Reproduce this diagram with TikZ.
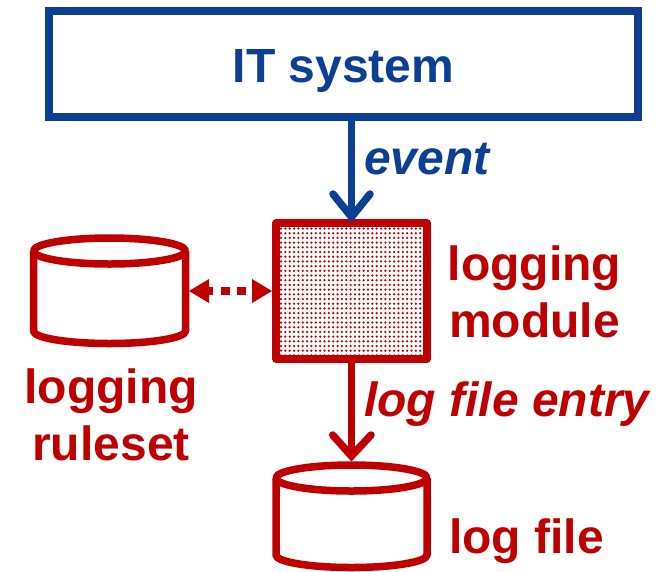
\documentclass[tikz,border=0pt]{standalone}
\usepackage{fontspec}
\setmainfont{Liberation Sans}
\definecolor{myred}{HTML}{C00000}
\definecolor{myblue}{HTML}{0B3F94}
\tikzset{
  x=1pt,y=-1pt,
  redline/.style={draw=myred,line width=7.5pt,line join=round},
  arm/.style={line width=7.5pt,line cap=round,line join=miter},
  lab/.style={font=\bfseries\fontsize{48}{56}\selectfont,text=myred,align=center,inner sep=0pt},
  ilab/.style={font=\bfseries\itshape\fontsize{48}{56}\selectfont,inner sep=0pt},
}
\begin{document}
\begin{tikzpicture}
\useasboundingbox (0,0) rectangle (666,571);
% IT system
\node[draw=myblue,line width=7.5pt,minimum width=589pt,minimum height=106pt,inner sep=0pt] (sys) at (343.5,64) {};
\node[font=\bfseries\fontsize{48}{56}\selectfont,text=myblue,inner sep=0pt,anchor=base] (syst) at (343.5,82) {IT system};
% logging module
\fill[white] (276,223) rectangle (427,359);
\foreach \i in {0,...,33}{\foreach \j in {0,...,28}{
  \fill[myred] ({281+\i*4.35},{228.5+\j*4.7}) circle (1.25pt);
}}
\node[redline,fill=none,minimum width=151pt,minimum height=136pt,inner sep=0pt] (mod) at (351.5,291) {};
% cylinders
\draw[redline] (33.5,251) -- (33.5,331) arc[start angle=180,end angle=360,x radius=76,y radius=-12.5] -- (185.5,251);
\draw[redline] (109.5,251) ellipse[x radius=76,y radius=13];
\draw[redline] (276,478) -- (276,555) arc[start angle=180,end angle=360,x radius=75.5,y radius=-12.5] -- (427,478);
\draw[redline] (351.5,478) ellipse[x radius=75.5,y radius=13];
\coordinate (rsr) at (189,291);
% event arrow
\coordinate (e1) at (351.5,217);
\draw[myblue,line width=7.5pt] (sys.south -| e1) -- (e1);
\draw[myblue,arm] (333,194) -- (e1) -- (370,194);
% log file entry arrow
\coordinate (e2) at (351.5,456);
\draw[myred,line width=7.5pt] (mod.south) -- (e2);
\draw[myred,arm] (332.7,435) -- (e2) -- (371,435);
% dotted double arrow
\coordinate (ml) at (272,291);
\fill[myred] (rsr) -- (209,279) -- (209,303) -- cycle;
\fill[myred] (ml) -- (252,279) -- (252,303) -- cycle;
\fill[myred] (209,287) rectangle (213,295);
\fill[myred] (221,287) rectangle (230,295);
\fill[myred] (237,287) rectangle (246,295);
% labels
\node[ilab,text=myblue,anchor=base west] (ev) at (364,174) {event};
\node[lab,anchor=base] (l1) at (534.5,280) {logging};
\node[lab,anchor=base] (l2) at (534.5,337) {module};
\node[lab,anchor=base] (r1) at (111,403) {logging};
\node[lab,anchor=base] (r2) at (111,460) {ruleset};
\node[ilab,text=myred,anchor=base west] (le) at (364,416) {log file entry};
\node[lab,anchor=base west] (lfl) at (449,553) {log file};
\end{tikzpicture}
\end{document}
